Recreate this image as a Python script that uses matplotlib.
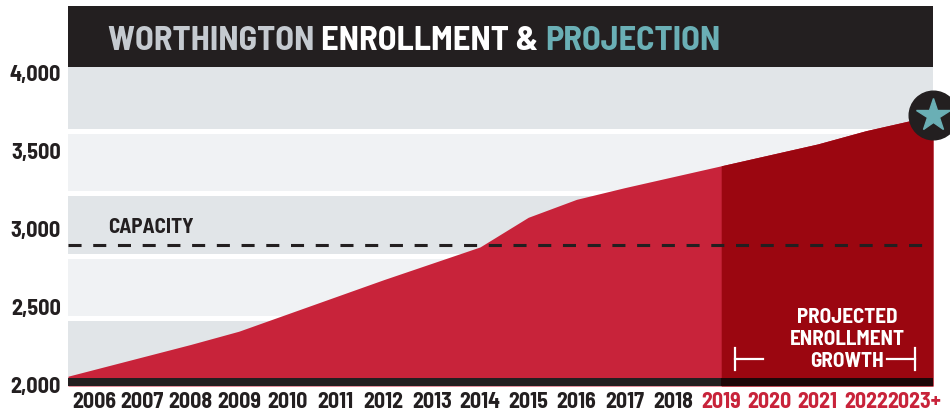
import matplotlib
matplotlib.use('Agg')
import matplotlib.pyplot as plt
import numpy as np

plt.rcParams['font.family'] = ['Barlow Semi Condensed', 'DejaVu Sans']
plt.rcParams['lines.scale_dashes'] = False

# data
years = ['2006', '2007', '2008', '2009', '2010', '2011', '2012', '2013', '2014',
         '2015', '2016', '2017', '2018', '2019', '2020', '2021', '2022', '2023+']
enrollment = [2100, 2180, 2260, 2345, 2455, 2565, 2675, 2780, 2885,
              3075, 3190, 3265, 3335, 3405, 3475, 3545, 3630, 3700]
first_projected = 13          # 2019 onward is projection
capacity = 2900
yticks = [2000, 2500, 3000, 3500, 4000]

RED = '#C8233A'
DARKRED = '#9B0610'
INK = '#231F20'
TEAL = '#6AAFB5'
BAND = ['#E1E5E8', '#F0F2F4']

fig = plt.figure(figsize=(9.5, 4.12), dpi=100)
ax = fig.add_axes([68 / 950, 26 / 412, 865 / 950, 319 / 412])

x = np.arange(len(years))
xlim = (-0.54, 17.39)
ylim = (1994, 4038)
bar_top = 2045
ax.set_xlim(*xlim)
ax.set_ylim(*ylim)

# background bands (5 equal bands above the base bar, white gaps between)
edges = np.linspace(bar_top, ylim[1], 6)
gap = 32
for i in range(5):
    top = edges[i + 1] - (gap if i < 4 else 0)
    ax.axhspan(edges[i], top, color=BAND[i % 2], lw=0, zorder=0)

# area, extended to the axes edges along the end segments
y = np.array(enrollment, dtype=float)
y_left = y[0] - (y[1] - y[0]) * (x[0] - xlim[0])
y_right = y[-1] + (y[-1] - y[-2]) * (xlim[1] - x[-1])
xe = np.concatenate([[xlim[0]], x, [xlim[1]]])
ye = np.concatenate([[y_left], y, [y_right]])
ax.fill_between(xe, ylim[0], ye, color=RED, lw=0, zorder=1)
p = first_projected + 1
ax.fill_between(xe[p:], ylim[0], ye[p:], color=DARKRED, lw=0, zorder=2)

# base bar
ax.axhspan(ylim[0], bar_top, color=INK, lw=0, zorder=3)
ax.fill_between([x[first_projected], xlim[1]], ylim[0], bar_top, color='#1E0608', lw=0, zorder=3)

# capacity line
ax.axhline(capacity, color=INK, lw=2.2, linestyle=(0, (9.4, 8.4)), zorder=4)
ax.text(xlim[0] + 0.83, capacity + 110, 'CAPACITY', fontsize=15.2, fontweight='bold',
        color=INK, ha='left', va='center', zorder=5)

# projected label with bracket
cx = 15.61
for i, line in enumerate(['PROJECTED', 'ENROLLMENT', 'GROWTH']):
    ax.text(cx, 2430 - i * 140, line, fontsize=15.2, fontweight='bold', color='white',
            ha='center', va='center', zorder=5)
for xa, xb in [(13.28, 13.87), (16.43, 17.02)]:
    ax.plot([xa, xb], [2167, 2167], color='white', lw=1.6, zorder=5)
for xv in (13.28, 17.02):
    ax.plot([xv, xv], [2096, 2237], color='white', lw=1.6, zorder=5)

# star badge at the last projection value
ax.plot([xlim[1]], [y_right], marker='o', ms=35, color=INK, mec=INK, clip_on=False, zorder=6)
ax.plot([xlim[1]], [y_right], marker='*', ms=25, color=TEAL, mec=TEAL, clip_on=False, zorder=7)

# axes styling
for s in ax.spines.values():
    s.set_visible(False)
ax.set_yticks(yticks)
ax.set_yticklabels([f'{v:,}' for v in yticks])
ax.set_xticks(x)
ax.set_xticklabels(years)
ax.tick_params(length=0)
ax.tick_params(axis='y', pad=5, labelsize=16, labelcolor=INK)
ax.tick_params(axis='x', pad=4, labelsize=15.8)
for i, lab in enumerate(ax.get_xticklabels()):
    lab.set_fontweight('bold')
    lab.set_color(RED if i >= first_projected else INK)
for lab in ax.get_yticklabels():
    lab.set_fontweight('bold')

# title bar
fig.patches.append(plt.Rectangle((68 / 950, 345 / 412), 865 / 950, 61 / 412,
                                 transform=fig.transFigure, color=INK, lw=0))
fig.canvas.draw()
renderer = fig.canvas.get_renderer()
xpos = 108 / 950
for part, col in [('WORTHINGTON ', '#C5CAD0'), ('ENROLLMENT & ', 'white'), ('PROJECTION', TEAL)]:
    t = fig.text(xpos, 362 / 412, part, fontsize=24.8, fontweight='bold', color=col,
                 ha='left', va='baseline')
    bb = t.get_window_extent(renderer)
    xpos = bb.x1 / fig.bbox.width

fig.savefig('out.png', dpi=100)
